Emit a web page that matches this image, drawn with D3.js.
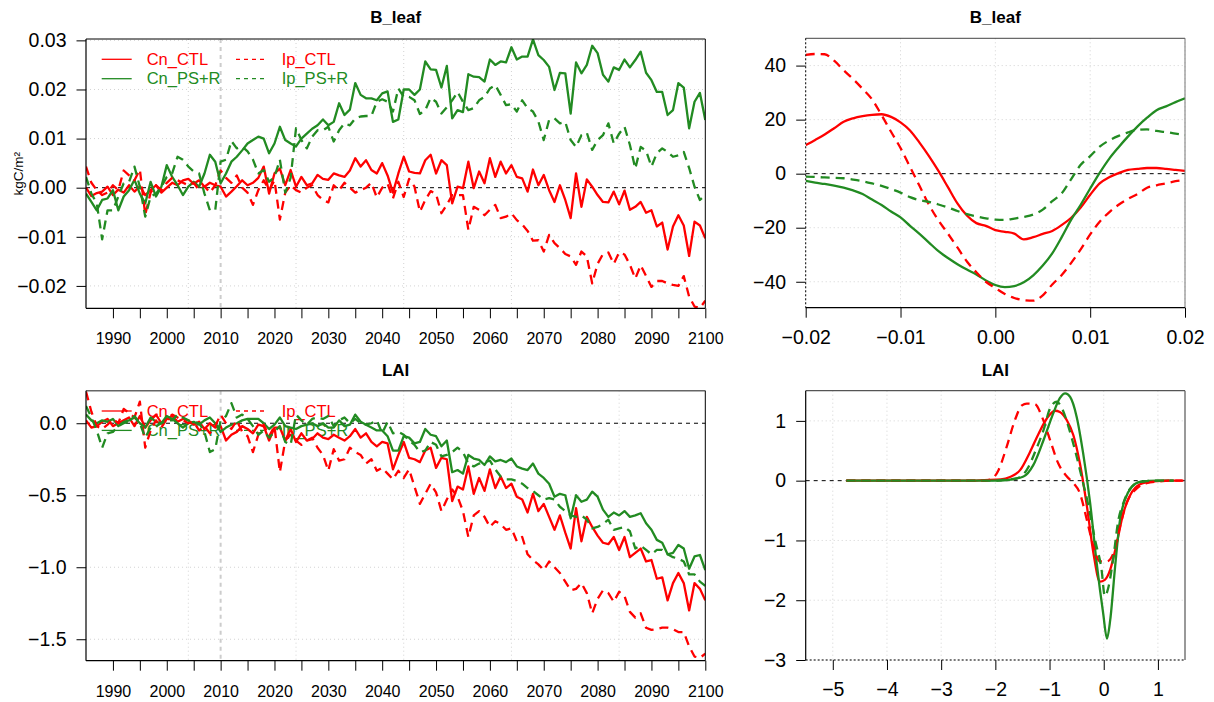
<!DOCTYPE html>
<html><head><meta charset="utf-8">
<script src="https://cdn.jsdelivr.net/npm/d3@7"></script>
<style>
body{margin:0;background:#fff}
svg{display:block}
text{font-family:"Liberation Sans",Arial,Helvetica,sans-serif}
</style>
</head><body>
<svg id="chart" width="1214" height="702"></svg>
<script>
// ---------------- data ----------------
const years = d3.range(1985, 2101);
const seriesNames = ["Cn_CTL", "Cn_PS+R", "Ip_CTL", "Ip_PS+R"];

// B_leaf anomaly time series (kgC/m2), 1985-2100
const bleafCnCTL = [0.0000,-0.0017,-0.0011,-0.0008,0.0002,-0.0015,-0.0004,-0.0010,0.0005,-0.0008,
0.0003,-0.0015,-0.0005,0.0005,-0.0010,0.0000,0.0010,0.0005,0.0015,0.0018,
0.0008,0.0015,0.0002,0.0010,0.0005,0.0002,-0.0018,-0.0008,0.0003,0.0015,
0.0005,0.0010,0.0020,0.0043,-0.0012,0.0029,0.0039,0.0005,0.0036,0.0002,
0.0022,0.0005,0.0009,0.0026,0.0018,0.0016,0.0029,0.0025,0.0022,0.0035,
0.0060,0.0043,0.0056,0.0036,0.0029,0.0050,0.0025,-0.0010,0.0029,0.0063,
0.0033,0.0030,0.0029,0.0056,0.0067,0.0029,0.0056,0.0046,-0.0032,0.0002,
-0.0001,0.0053,-0.0001,0.0033,0.0009,0.0060,0.0022,0.0053,0.0029,0.0046,
0.0022,0.0019,-0.0008,0.0037,0.0005,0.0026,-0.0005,-0.0029,0.0005,-0.0025,
-0.0062,0.0029,-0.0039,0.0017,0.0002,-0.0015,-0.0029,-0.0030,-0.0008,-0.0034,
-0.0006,-0.0045,-0.0039,-0.0029,-0.0051,-0.0046,-0.0079,-0.0071,-0.0126,-0.0079,
-0.0056,-0.0077,-0.0139,-0.0069,-0.0077,-0.0103];
const bleafIpCTL = [0.0043,0.0010,-0.0005,-0.0015,-0.0010,0.0005,-0.0005,0.0035,0.0025,0.0015,
0.0037,-0.0055,-0.0010,0.0005,-0.0005,0.0010,0.0020,0.0015,0.0010,0.0005,
0.0010,-0.0005,0.0003,-0.0010,0.0005,0.0035,0.0020,0.0010,0.0025,0.0000,
-0.0010,-0.0035,-0.0005,0.0015,-0.0005,0.0015,-0.0065,-0.0010,0.0005,-0.0005,
-0.0010,0.0000,0.0005,-0.0015,-0.0025,-0.0030,0.0005,-0.0005,0.0010,0.0000,
-0.0010,-0.0005,0.0000,0.0010,-0.0020,0.0000,0.0008,-0.0022,0.0012,-0.0019,
0.0018,0.0002,-0.0049,-0.0025,-0.0007,-0.0013,-0.0052,-0.0035,-0.0015,-0.0015,
-0.0015,-0.0086,-0.0039,-0.0045,-0.0056,-0.0045,-0.0035,-0.0062,-0.0059,-0.0052,
-0.0066,-0.0075,-0.0088,-0.0108,-0.0107,-0.0130,-0.0096,-0.0113,-0.0123,-0.0135,
-0.0140,-0.0157,-0.0130,-0.0140,-0.0195,-0.0155,-0.0135,-0.0132,-0.0155,-0.0132,
-0.0136,-0.0157,-0.0185,-0.0158,-0.0180,-0.0202,-0.0190,-0.0190,-0.0195,-0.0198,
-0.0200,-0.0180,-0.0222,-0.0242,-0.0245,-0.0230];
const bleafCnPSR = [-0.0012,-0.0029,-0.0046,-0.0025,-0.0022,-0.0005,-0.0046,-0.0018,-0.0005,0.0016,
-0.0012,-0.0032,0.0012,-0.0018,0.0002,0.0046,0.0022,0.0005,-0.0015,0.0002,
0.0012,0.0002,0.0029,0.0067,0.0053,0.0009,0.0029,0.0053,0.0063,0.0076,
0.0090,0.0097,0.0104,0.0100,0.0070,0.0090,0.0124,0.0097,0.0090,0.0084,
0.0100,0.0110,0.0120,0.0127,0.0139,0.0127,0.0134,0.0172,0.0148,0.0159,
0.0213,0.0189,0.0182,0.0182,0.0178,0.0192,0.0196,0.0134,0.0139,0.0200,
0.0200,0.0189,0.0200,0.0257,0.0241,0.0240,0.0204,0.0248,0.0141,0.0158,
0.0154,0.0231,0.0226,0.0225,0.0216,0.0261,0.0250,0.0257,0.0255,0.0286,
0.0261,0.0267,0.0267,0.0302,0.0270,0.0260,0.0246,0.0199,0.0234,0.0233,
0.0151,0.0255,0.0233,0.0250,0.0289,0.0274,0.0230,0.0216,0.0245,0.0240,
0.0261,0.0245,0.0260,0.0277,0.0234,0.0219,0.0195,0.0195,0.0148,0.0158,
0.0213,0.0204,0.0121,0.0175,0.0193,0.0138];
const bleafIpPSR = [0.0022,-0.0012,-0.0032,-0.0105,-0.0046,-0.0046,-0.0018,0.0009,0.0012,0.0043,
0.0002,-0.0059,-0.0018,-0.0012,0.0002,0.0022,0.0029,0.0063,0.0057,0.0043,
0.0033,0.0029,-0.0012,-0.0046,-0.0046,0.0053,0.0057,0.0095,0.0080,0.0084,
0.0074,0.0057,0.0029,0.0036,0.0012,0.0022,0.0057,-0.0010,0.0020,0.0121,
0.0097,0.0080,0.0104,0.0117,0.0117,0.0124,0.0094,0.0117,0.0131,0.0127,
0.0141,0.0145,0.0146,0.0146,0.0175,0.0180,0.0175,0.0155,0.0202,0.0185,
0.0185,0.0178,0.0150,0.0158,0.0183,0.0175,0.0151,0.0164,0.0178,0.0195,
0.0175,0.0158,0.0162,0.0178,0.0185,0.0202,0.0209,0.0189,0.0168,0.0170,
0.0155,0.0178,0.0162,0.0155,0.0135,0.0097,0.0138,0.0141,0.0131,0.0134,
0.0097,0.0083,0.0107,0.0112,0.0077,0.0097,0.0107,0.0131,0.0090,0.0110,
0.0124,0.0087,0.0039,0.0083,0.0075,0.0043,0.0070,0.0080,0.0073,0.0063,
0.0066,0.0073,0.0040,0.0002,-0.0025,-0.0015];

// LAI anomaly time series, 1985-2100
const laiCnCTL = [0.02,-0.03,-0.02,0.01,0.03,-0.02,0.00,0.02,0.04,-0.02,
0.05,-0.03,0.02,0.06,0.00,0.03,0.05,0.01,0.03,0.02,
-0.01,0.01,-0.04,0.00,-0.03,-0.02,-0.12,-0.08,-0.06,-0.02,
-0.04,-0.07,-0.01,-0.02,-0.12,-0.03,-0.03,-0.12,-0.04,-0.13,
-0.07,-0.12,-0.11,-0.07,-0.10,-0.11,-0.08,-0.10,-0.12,-0.09,
-0.04,-0.10,-0.07,-0.13,-0.16,-0.13,-0.14,-0.32,-0.22,-0.13,
-0.24,-0.25,-0.27,-0.19,-0.17,-0.31,-0.24,-0.25,-0.54,-0.44,
-0.46,-0.30,-0.49,-0.38,-0.47,-0.32,-0.45,-0.37,-0.45,-0.42,
-0.51,-0.53,-0.62,-0.49,-0.61,-0.56,-0.65,-0.74,-0.64,-0.76,
-0.87,-0.59,-0.82,-0.65,-0.72,-0.78,-0.83,-0.84,-0.79,-0.88,
-0.79,-0.93,-0.90,-0.87,-0.96,-0.95,-1.08,-1.07,-1.23,-1.11,
-1.04,-1.11,-1.30,-1.11,-1.15,-1.23];
const laiIpCTL = [0.22,0.08,-0.02,-0.04,-0.01,0.03,0.00,0.10,0.07,0.04,
0.15,-0.17,-0.05,0.02,-0.03,0.03,0.06,0.04,0.02,0.00,
0.01,-0.05,-0.02,-0.07,-0.02,0.06,0.00,-0.04,0.02,-0.06,
-0.09,-0.20,-0.08,-0.01,-0.09,-0.02,-0.34,-0.12,-0.08,-0.12,
-0.15,-0.12,-0.10,-0.17,-0.22,-0.33,-0.18,-0.26,-0.25,-0.17,
-0.20,-0.22,-0.28,-0.25,-0.33,-0.31,-0.35,-0.39,-0.33,-0.38,
-0.32,-0.44,-0.56,-0.49,-0.42,-0.48,-0.61,-0.53,-0.46,-0.51,
-0.61,-0.79,-0.64,-0.61,-0.65,-0.72,-0.68,-0.70,-0.74,-0.73,
-0.82,-0.79,-0.91,-0.95,-0.98,-1.02,-0.96,-1.00,-1.04,-1.10,
-1.16,-1.15,-1.11,-1.18,-1.32,-1.22,-1.16,-1.18,-1.24,-1.17,
-1.20,-1.31,-1.35,-1.32,-1.42,-1.435,-1.43,-1.42,-1.42,-1.43,
-1.45,-1.45,-1.55,-1.62,-1.63,-1.60];
const laiCnPSR = [0.06,0.02,0.00,0.02,0.01,0.03,-0.02,0.01,0.02,0.04,
0.00,-0.03,0.04,0.01,0.00,0.05,0.03,0.00,-0.03,0.00,
0.01,-0.01,0.02,0.04,0.00,-0.06,-0.03,-0.01,0.00,0.02,
0.03,0.03,0.03,0.00,-0.04,-0.01,0.04,-0.02,-0.03,-0.04,
-0.02,-0.01,0.00,-0.02,0.00,-0.03,-0.03,0.02,-0.02,-0.01,
0.06,0.01,-0.01,-0.03,-0.05,-0.05,-0.09,-0.19,-0.19,-0.09,
-0.10,-0.14,-0.13,-0.04,-0.08,-0.09,-0.16,-0.12,-0.34,-0.325,
-0.35,-0.22,-0.245,-0.255,-0.29,-0.23,-0.265,-0.255,-0.27,-0.245,
-0.30,-0.315,-0.325,-0.28,-0.35,-0.38,-0.42,-0.51,-0.49,-0.50,
-0.66,-0.50,-0.545,-0.53,-0.475,-0.51,-0.60,-0.65,-0.62,-0.64,
-0.61,-0.65,-0.64,-0.625,-0.695,-0.74,-0.81,-0.83,-0.91,-0.90,
-0.845,-0.87,-1.01,-0.925,-0.915,-1.02];
const laiIpPSR = [0.12,0.04,-0.05,-0.17,-0.07,-0.06,-0.02,0.00,0.01,0.05,
0.00,-0.10,-0.03,-0.02,0.00,0.02,0.02,0.06,0.04,0.02,
0.01,0.00,-0.06,-0.20,-0.18,0.02,0.05,0.14,0.04,0.06,
0.03,-0.02,-0.08,-0.05,-0.10,-0.06,-0.02,-0.13,-0.15,0.06,
0.02,-0.01,0.03,0.04,0.03,0.05,-0.02,0.02,0.04,0.00,
0.03,0.00,-0.01,0.00,0.02,-0.07,0.01,-0.07,-0.06,-0.08,
-0.12,-0.15,-0.20,-0.19,-0.13,-0.15,-0.23,-0.22,-0.20,-0.17,
-0.20,-0.28,-0.30,-0.28,-0.27,-0.26,-0.32,-0.37,-0.39,-0.39,
-0.40,-0.42,-0.45,-0.47,-0.50,-0.53,-0.52,-0.53,-0.58,-0.61,
-0.64,-0.65,-0.64,-0.67,-0.73,-0.72,-0.70,-0.67,-0.74,-0.73,
-0.72,-0.75,-0.87,-0.85,-0.88,-0.91,-0.88,-0.88,-0.91,-0.93,
-0.94,-0.96,-1.05,-1.05,-1.10,-1.13];

// right-hand B_leaf curves (x = B_leaf anomaly)
const bleafCurveX = [-0.020,-0.019,-0.018,-0.017,-0.016,-0.015,-0.014,-0.013,-0.012,-0.011,
-0.010,-0.009,-0.008,-0.007,-0.006,-0.005,-0.004,-0.003,-0.002,-0.001,
0.000,0.001,0.002,0.003,0.004,0.005,0.006,0.007,0.008,0.009,
0.010,0.011,0.012,0.013,0.014,0.015,0.016,0.017,0.018,0.019,0.020];
const bleafCurveCnCTL = [10.6,12.5,14.5,16.8,19.2,20.5,21.3,21.8,22.0,21.0,
19.0,16.0,11.5,6.5,1.0,-5.0,-11.0,-15.5,-18.3,-19.3,
-20.9,-21.5,-22.2,-24.3,-23.5,-22.3,-21.2,-19.0,-16.3,-12.5,
-7.8,-3.6,-1.3,0.2,1.4,1.8,2.1,2.1,1.8,1.4,1.0];
const bleafCurveIpCTL = [44.0,44.3,44.2,41.8,38.3,35.0,31.4,27.5,21.7,15.5,
9.5,2.5,-4.5,-11.5,-17.3,-22.2,-27.3,-32.5,-36.5,-40.0,
-42.3,-44.5,-46.0,-46.8,-47.0,-45.0,-41.0,-37.5,-33.0,-28.0,
-22.5,-17.8,-14.3,-11.5,-9.3,-7.5,-5.2,-4.3,-3.6,-2.8,-2.3];
const bleafCurveCnPSR = [-2.7,-3.3,-3.8,-4.4,-5.2,-6.2,-7.5,-9.6,-11.6,-14.0,
-16.2,-19.3,-22.3,-25.5,-28.7,-31.2,-33.5,-35.5,-37.3,-39.5,
-41.2,-42.0,-41.6,-40.2,-37.6,-34.0,-29.5,-23.5,-17.0,-11.5,
-5.5,0.3,5.5,9.8,13.8,17.5,20.7,23.5,24.9,26.5,27.9];
const bleafCurveIpPSR = [-1.1,-1.2,-1.4,-1.5,-1.7,-2.2,-2.8,-3.6,-4.5,-5.7,
-7.0,-8.7,-9.8,-10.4,-11.4,-12.5,-13.8,-15.0,-15.8,-16.5,
-17.0,-17.1,-16.6,-16.0,-15.1,-13.3,-10.2,-7.3,-2.0,3.3,
6.5,10.0,12.3,14.0,15.3,16.2,16.4,15.8,15.4,14.8,14.3];

// right-hand LAI curves (x = LAI anomaly)
const laiCurveCnCTLx = [-4.75,-4,-3,-2.5,-2.2,-1.9,-1.73,-1.54,-1.36,-1.2,-1.05,-0.9,-0.81,-0.68,-0.56,-0.44,-0.31,-0.19,-0.07,0.02,0.12,0.24,0.36,0.49,0.67,0.92,1.2,1.45];
const laiCurveCnCTLy = [0,0,0,0,0.01,0.02,0.06,0.18,0.48,0.79,1.04,1.17,1.15,1.01,0.76,0.29,-0.43,-1.21,-1.69,-1.66,-1.49,-1.05,-0.55,-0.24,-0.06,-0.01,0,0];
const laiCurveIpCTLx = [-4.75,-4,-3,-2.5,-2.2,-2.05,-1.94,-1.79,-1.64,-1.51,-1.42,-1.27,-1.14,-0.99,-0.84,-0.68,-0.56,-0.44,-0.31,-0.19,-0.07,0.06,0.18,0.30,0.42,0.61,0.79,1.04,1.25,1.47];
const laiCurveIpCTLy = [0,0,0,0,0,0.04,0.18,0.57,1.01,1.26,1.29,1.28,1.07,0.68,0.29,0.07,-0.04,-0.21,-0.66,-1.10,-1.35,-1.35,-1.21,-0.77,-0.38,-0.13,-0.04,-0.01,0,0];
const laiCurveCnPSRx = [-4.75,-4,-3,-2.5,-2,-1.79,-1.48,-1.3,-1.11,-0.93,-0.81,-0.71,-0.62,-0.5,-0.38,-0.25,-0.13,-0.01,0.06,0.12,0.21,0.30,0.39,0.52,0.67,0.98,1.29];
const laiCurveCnPSRy = [0,0,0,0,0,0.01,0.07,0.26,0.68,1.13,1.38,1.46,1.40,1.07,0.46,-0.38,-1.38,-2.22,-2.64,-2.33,-1.44,-0.66,-0.32,-0.10,-0.02,0,0];
const laiCurveIpPSRx = [-4.75,-4,-3,-2.5,-2,-1.91,-1.6,-1.42,-1.24,-1.11,-0.99,-0.87,-0.77,-0.65,-0.53,-0.41,-0.28,-0.16,-0.04,0.02,0.09,0.18,0.27,0.36,0.49,0.67,0.98,1.29];
const laiCurveIpPSRy = [0,0,0,0,0,0.01,0.04,0.18,0.54,0.85,1.21,1.32,1.21,0.9,0.51,0.07,-0.43,-0.99,-1.49,-1.93,-1.77,-1.27,-0.66,-0.38,-0.13,-0.02,0,0];

// ticks
const yearTicks = d3.range(1990, 2101, 5);
const gridYears = [2004, 2024, 2044, 2064, 2084];
const refYear = 2010;
const bleafTsTicks = [-0.02, -0.01, 0.00, 0.01, 0.02, 0.03];
const laiTsTicks = [-1.5, -1.0, -0.5, 0.0];
const bleafCurveXTicks = [-0.02, -0.01, 0.00, 0.01, 0.02];
const bleafCurveYTicks = [-40, -20, 0, 20, 40];
const laiCurveXTicks = [-5, -4, -3, -2, -1, 0, 1];
const laiCurveYTicks = [-3, -2, -1, 0, 1];

// ---------------- drawing ----------------
const RED = "#ff0000", GREEN = "#228b22";
const styles = {
  "Cn_CTL":  {color: RED,   dash: null},
  "Cn_PS+R": {color: GREEN, dash: null},
  "Ip_CTL":  {color: RED,   dash: "9,6"},
  "Ip_PS+R": {color: GREEN, dash: "9,6"}
};
const FONT = '"Liberation Sans",Arial,Helvetica,sans-serif';
const svg = d3.select("#chart");
let clipId = 0;

function styleAxis(g, size) {
  g.attr("font-size", size).attr("font-family", FONT);
  g.select(".domain").remove();
  g.selectAll(".tick line").attr("stroke", "#000");
  g.selectAll(".tick text").attr("fill", "#000");
}

function panel(cfg) {
  const x = d3.scaleLinear().domain(cfg.xDomain).range([cfg.left, cfg.right]);
  const y = d3.scaleLinear().domain(cfg.yDomain).range([cfg.bottom, cfg.top]);
  const g = svg.append("g");
  const id = "clip" + (clipId++);
  g.append("clipPath").attr("id", id).append("rect")
    .attr("x", cfg.left).attr("y", cfg.top)
    .attr("width", cfg.right - cfg.left).attr("height", cfg.bottom - cfg.top);

  // grid
  const grid = g.append("g").attr("stroke", "#d3d3d3").attr("stroke-width", 1).attr("stroke-dasharray", "1,3");
  cfg.gridX.forEach(v => grid.append("line").attr("x1", x(v)).attr("x2", x(v)).attr("y1", cfg.top).attr("y2", cfg.bottom));
  cfg.gridY.filter(v => v !== 0).forEach(v => grid.append("line").attr("x1", cfg.left).attr("x2", cfg.right).attr("y1", y(v)).attr("y2", y(v)));

  if (cfg.refX !== undefined) {
    g.append("line").attr("x1", x(cfg.refX)).attr("x2", x(cfg.refX)).attr("y1", cfg.top).attr("y2", cfg.bottom)
      .attr("stroke", "#cccccc").attr("stroke-width", 2).attr("stroke-dasharray", "4,4");
  }
  // zero line
  g.append("line").attr("x1", cfg.left).attr("x2", cfg.right).attr("y1", y(0)).attr("y2", y(0))
    .attr("stroke", "#000").attr("stroke-width", 1).attr("stroke-dasharray", "4,4");

  // legend (drawn before lines)
  if (cfg.legend) {
    const cols = [[seriesNames[0], seriesNames[1]], [seriesNames[2], seriesNames[3]]];
    const colX = [{l1: 101.7, l2: 131.7, t: 146.7}, {l1: 236, l2: 264, t: 281.7}];
    const rowDy = [20.3, 39.7];
    cols.forEach((col, ci) => col.forEach((name, ri) => {
      const st = styles[name], yy = cfg.top + rowDy[ri];
      g.append("line").attr("x1", colX[ci].l1).attr("x2", colX[ci].l2).attr("y1", yy).attr("y2", yy)
        .attr("stroke", st.color).attr("stroke-width", 1.3).attr("stroke-dasharray", st.dash ? "4,4" : null);
      g.append("text").attr("x", colX[ci].t).attr("y", yy).attr("dy", "0.35em")
        .attr("font-size", 16.5).attr("fill", st.color).text(name);
    }));
  }

  // series
  const lines = g.append("g").attr("clip-path", `url(#${id})`);
  cfg.series.forEach(s => {
    const st = styles[s.name];
    const pts = s.x.map((xv, i) => [xv, s.y[i]]);
    const line = d3.line().x(d => x(d[0])).y(d => y(d[1]));
    if (cfg.smooth) line.curve(d3.curveMonotoneX);
    lines.append("path").datum(pts).attr("d", line).attr("fill", "none")
      .attr("stroke", st.color).attr("stroke-width", 2.3).attr("stroke-linejoin", "round")
      .attr("stroke-dasharray", st.dash);
  });

  // frame
  const fr = g.append("g").attr("fill", "none");
  const side = (x1, y1, x2, y2, col, w, dash) => fr.append("line").attr("x1", x1).attr("y1", y1).attr("x2", x2).attr("y2", y2)
    .attr("stroke", col).attr("stroke-width", w).attr("stroke-dasharray", dash || null);
  const f = cfg.frame;
  side(cfg.left, cfg.top, cfg.right, cfg.top, f.top[0], f.top[1], f.top[2]);
  side(cfg.right, cfg.top, cfg.right, cfg.bottom, f.right[0], f.right[1], f.right[2]);
  side(cfg.left, cfg.bottom, cfg.right, cfg.bottom, f.bottom[0], f.bottom[1], f.bottom[2]);
  side(cfg.left, cfg.top, cfg.left, cfg.bottom, f.left[0], f.left[1], f.left[2]);

  // axes
  g.append("g").attr("transform", `translate(${cfg.left},0)`)
    .call(d3.axisLeft(y).tickValues(cfg.yTicks).tickSize(9.5).tickPadding(10).tickFormat(cfg.yFormat))
    .call(a => styleAxis(a, cfg.yFont));
  g.append("g").attr("transform", `translate(0,${cfg.bottom})`)
    .call(d3.axisBottom(x).tickValues(cfg.xTicks).tickSize(10).tickPadding(cfg.xPad).tickFormat(cfg.xFormat))
    .call(a => styleAxis(a, cfg.xFont));

  // title
  g.append("text").attr("x", (cfg.left + cfg.right) / 2).attr("y", cfg.titleY)
    .attr("text-anchor", "middle").attr("font-weight", "bold").attr("font-size", 17).text(cfg.title);

  if (cfg.yLabel) {
    g.append("text").attr("transform", `translate(18,${(cfg.top + cfg.bottom) / 2}) rotate(-90)`)
      .attr("text-anchor", "middle").attr("dy", "0.35em").attr("font-size", 13.5).text(cfg.yLabel);
  }
}

const frameLeft = {top: ["#000", 1], right: ["#000", 1], bottom: ["#000", 1.2], left: ["#000", 1.2]};
const yearFmt = d => (d % 10 === 0 ? String(d) : "");

panel({
  title: "B_leaf", titleY: 23, yLabel: "kgC/m²",
  left: 86, right: 705.3, top: 39, bottom: 308.3,
  xDomain: [1985, 2100], yDomain: [-0.02456, 0.03028],
  xTicks: yearTicks, xFormat: yearFmt, xFont: 16, xPad: 14.6,
  yTicks: bleafTsTicks, yFormat: d3.format(".2f"), yFont: 19.5,
  gridX: gridYears, gridY: bleafTsTicks, refX: refYear, legend: true, frame: frameLeft,
  series: [
    {name: "Cn_CTL", x: years, y: bleafCnCTL},
    {name: "Cn_PS+R", x: years, y: bleafCnPSR},
    {name: "Ip_CTL", x: years, y: bleafIpCTL},
    {name: "Ip_PS+R", x: years, y: bleafIpPSR}
  ]
});

panel({
  title: "LAI", titleY: 376,
  left: 86, right: 705.3, top: 390.7, bottom: 660.7,
  xDomain: [1985, 2100], yDomain: [-1.649, 0.226],
  xTicks: yearTicks, xFormat: yearFmt, xFont: 16, xPad: 14.6,
  yTicks: laiTsTicks, yFormat: d3.format(".1f"), yFont: 19.5,
  gridX: gridYears, gridY: laiTsTicks, refX: refYear, legend: true,
  frame: {top: ["#666", 1.5], right: ["#000", 1], bottom: ["#000", 1.2], left: ["#000", 1.2]},
  series: [
    {name: "Cn_CTL", x: years, y: laiCnCTL},
    {name: "Cn_PS+R", x: years, y: laiCnPSR},
    {name: "Ip_CTL", x: years, y: laiIpCTL},
    {name: "Ip_PS+R", x: years, y: laiIpPSR}
  ]
});

panel({
  title: "B_leaf", titleY: 23,
  left: 805.7, right: 1185, top: 38.3, bottom: 307.7,
  xDomain: [-0.02, 0.02], yDomain: [-49.6, 50.1],
  xTicks: bleafCurveXTicks, xFormat: d3.format(".2f"), xFont: 19.5, xPad: 12.2,
  yTicks: bleafCurveYTicks, yFormat: d3.format("d"), yFont: 19.5,
  gridX: bleafCurveXTicks, gridY: bleafCurveYTicks, smooth: true,
  frame: {top: ["#444", 1], right: ["#777", 1], bottom: ["#000", 1.3], left: ["#000", 1, "2,2"]},
  series: [
    {name: "Cn_CTL", x: bleafCurveX, y: bleafCurveCnCTL},
    {name: "Cn_PS+R", x: bleafCurveX, y: bleafCurveCnPSR},
    {name: "Ip_CTL", x: bleafCurveX, y: bleafCurveIpCTL},
    {name: "Ip_PS+R", x: bleafCurveX, y: bleafCurveIpPSR}
  ]
});

panel({
  title: "LAI", titleY: 376,
  left: 805.7, right: 1185, top: 390.7, bottom: 660,
  xDomain: [-5.5, 1.5], yDomain: [-3, 1.505],
  xTicks: laiCurveXTicks, xFormat: d3.format("d"), xFont: 19.5, xPad: 12.5,
  yTicks: laiCurveYTicks, yFormat: d3.format("d"), yFont: 19.5,
  gridX: laiCurveXTicks, gridY: laiCurveYTicks, smooth: true,
  frame: {top: ["#555", 1.2], right: ["#555", 1.2], bottom: ["#000", 1, "2,2"], left: ["#000", 1.2]},
  series: [
    {name: "Cn_CTL", x: laiCurveCnCTLx, y: laiCurveCnCTLy},
    {name: "Cn_PS+R", x: laiCurveCnPSRx, y: laiCurveCnPSRy},
    {name: "Ip_CTL", x: laiCurveIpCTLx, y: laiCurveIpCTLy},
    {name: "Ip_PS+R", x: laiCurveIpPSRx, y: laiCurveIpPSRy}
  ]
});
</script>
</body></html>
